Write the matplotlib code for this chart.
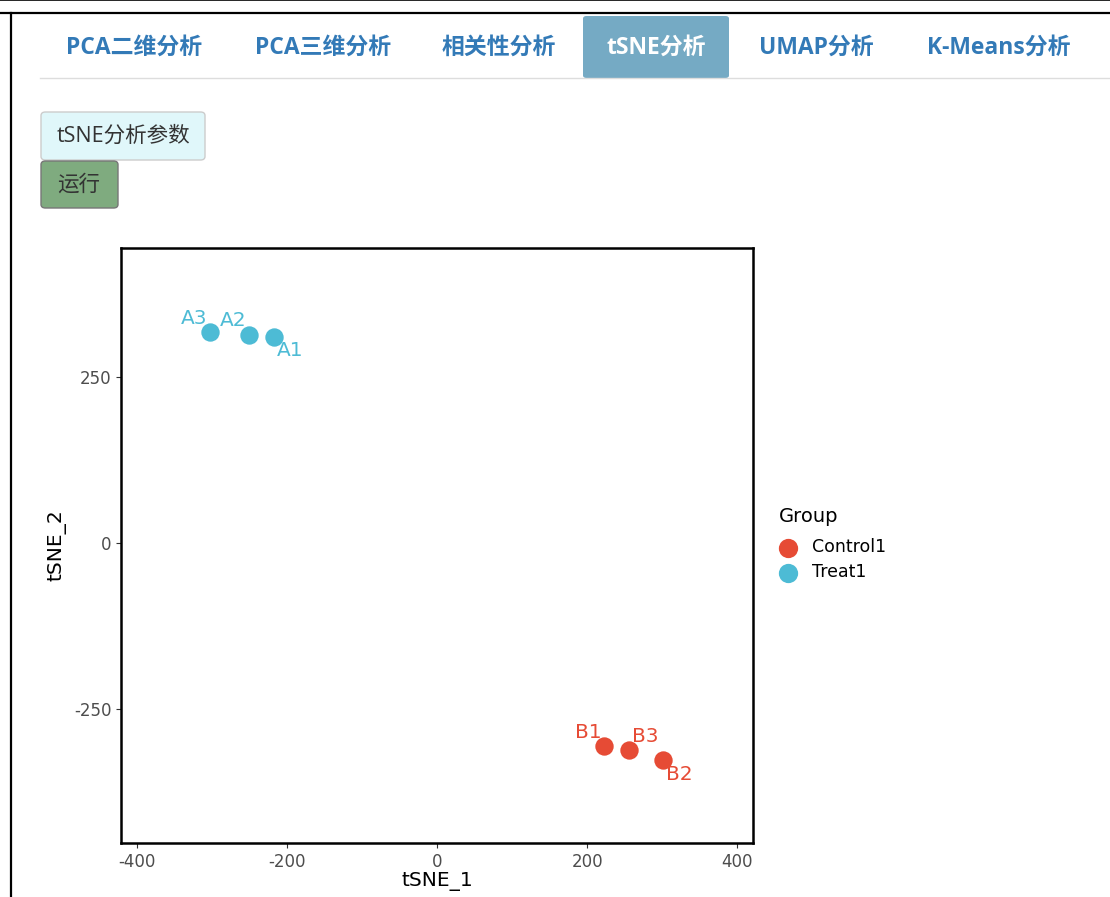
import matplotlib
matplotlib.use("Agg")
import matplotlib.pyplot as plt
from matplotlib.patches import FancyBboxPatch
from matplotlib.lines import Line2D

plt.rcParams['font.family'] = ['DejaVu Sans', 'Noto Sans CJK SC']
plt.rcParams['axes.unicode_minus'] = False

# data
samples = ['A3', 'A2', 'A1', 'B1', 'B3', 'B2']
groups = ['Treat1', 'Treat1', 'Treat1', 'Control1', 'Control1', 'Control1']
tsne1 = [-303, -251, -217, 223, 256, 301]
tsne2 = [318, 313, 310, -306, -312, -327]
group_order = ['Control1', 'Treat1']
group_colors = {'Control1': '#E64B35', 'Treat1': '#4DBBD5'}
x_ticks = [-400, -200, 0, 200, 400]
y_ticks = [-250, 0, 250]
tabs = ['PCA二维分析', 'PCA三维分析', '相关性分析', 'tSNE分析', 'UMAP分析', 'K-Means分析']
active_tab = 'tSNE分析'

# label nudges (pixels), like ggrepel placed them
nudge = {'A3': (-15, 13), 'A2': (-15, 14), 'A1': (16, -14),
         'B1': (-16, 14), 'B3': (16, 14), 'B2': (16, -15)}

W, H = 1110, 897
fig = plt.figure(figsize=(W / 100, H / 100), dpi=100)
fig.patch.set_facecolor('white')


def px(x, y):
    return x / W, 1 - y / H


# page frame
fig.add_artist(Line2D([0, 1], [1 - 0.5 / H] * 2, color='black', lw=1.2))
fig.add_artist(Line2D([0, 1], [1 - 13 / H] * 2, color='black', lw=1.6))
fig.add_artist(Line2D([11 / W] * 2, [0, 1 - 13 / H], color='black', lw=1.6))

# tab bar
tab_x = [134, 323, 499, 656, 816, 999]
fig.add_artist(FancyBboxPatch(px(583, 78), 146 / W, 62 / H,
                              boxstyle='round,pad=0,rounding_size=0.003',
                              facecolor='#75aac4', edgecolor='none'))
fig.add_artist(Line2D([40 / W, 1], [1 - 78 / H] * 2, color='#dddddd', lw=1.0))
for name, cx in zip(tabs, tab_x):
    col = 'white' if name == active_tab else '#337ab7'
    fig.text(*px(cx, 48), name, ha='center', va='center', fontsize=16.5,
             fontweight='bold', color=col,
             family=['Open Sans', 'Noto Sans CJK SC'])

# buttons
fig.add_artist(FancyBboxPatch(px(41, 160), 164 / W, 48 / H,
                              boxstyle='round,pad=0,rounding_size=0.004',
                              facecolor='#e0f7fa', edgecolor='#cccccc', lw=1))
fig.text(*px(123, 136), 'tSNE分析参数', ha='center', va='center', fontsize=15.5,
         color='#333333', family=['Open Sans', 'Noto Sans CJK SC'])
fig.add_artist(FancyBboxPatch(px(41, 208), 77 / W, 47 / H,
                              boxstyle='round,pad=0,rounding_size=0.004',
                              facecolor='#7fab7f', edgecolor='#777777', lw=1))
fig.text(*px(79, 185), '运行', ha='center', va='center', fontsize=15.5,
         color='#333333', family=['Open Sans', 'Noto Sans CJK SC'])

# tSNE plot
ax = fig.add_axes([121 / W, 1 - 843 / H, 632 / W, 595 / H])
for g in group_order:
    xs = [x for x, gg in zip(tsne1, groups) if gg == g]
    ys = [y for y, gg in zip(tsne2, groups) if gg == g]
    ax.scatter(xs, ys, s=175, color=group_colors[g], label=g, zorder=3,
               linewidths=0)
for s, g, x, y in zip(samples, groups, tsne1, tsne2):
    ax.annotate(s, (x, y), xytext=nudge[s], textcoords='offset pixels',
                ha='center', va='center', fontsize=14.5,
                color=group_colors[g])

ax.set_xlim(-421, 421)
ax.set_ylim(-452, 444)
ax.set_xticks(x_ticks)
ax.set_yticks(y_ticks)
ax.tick_params(colors='#333333', labelcolor='#4d4d4d', labelsize=12,
               length=3.5, width=0.8)
for sp in ax.spines.values():
    sp.set_linewidth(1.8)
    sp.set_color('black')
ax.set_xlabel('tSNE_1', fontsize=14.5, labelpad=1)
ax.set_ylabel('tSNE_2', fontsize=14.5, labelpad=5)

leg = ax.legend(loc='upper left', bbox_to_anchor=(770 / W, 1 - 498 / H),
                bbox_transform=fig.transFigure, frameon=False, title='Group',
                fontsize=12.5, title_fontsize=14, markerscale=1.05,
                handletextpad=0.9, labelspacing=0.42, borderpad=0,
                handlelength=1.03)
leg._legend_box.align = 'left'
leg._legend_box.sep = 9

fig.savefig('out.png', dpi=100)
